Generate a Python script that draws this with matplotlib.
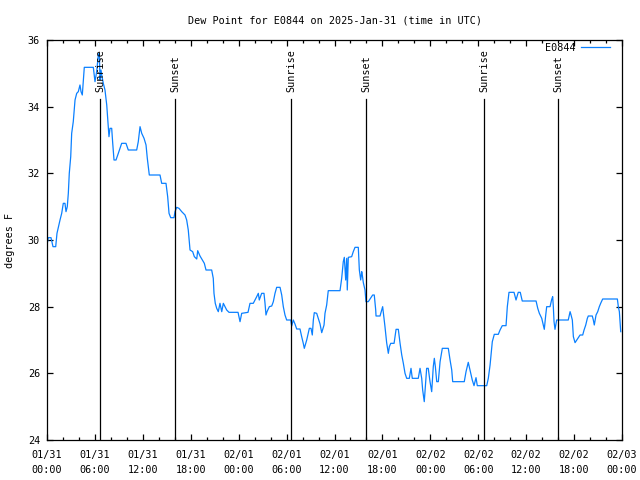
import matplotlib
matplotlib.use("Agg")
import matplotlib.pyplot as plt

# dew point readings, hours since 2025-01-31 00:00 UTC
hours = [0.00, 0.16, 0.50, 0.75, 1.09, 1.25, 1.63, 1.84, 2.04, 2.25,
         2.38, 2.54, 2.67, 2.79, 2.97, 3.09, 3.29, 3.51, 3.72, 3.92,
         4.13, 4.26, 4.42, 4.55, 4.67, 5.80, 5.89, 6.01, 6.22, 6.42,
         6.55, 6.64, 6.76, 6.89, 7.05, 7.26, 7.48, 7.68, 7.76, 7.89,
         8.10, 8.23, 8.39, 8.64, 8.93, 9.35, 9.89, 10.18, 11.23, 11.43,
         11.65, 11.86, 12.15, 12.40, 12.56, 12.81, 14.15, 14.36, 14.90, 15.11,
         15.28, 15.49, 15.90, 16.03, 16.24, 16.53, 16.87, 17.28, 17.49, 17.69,
         17.91, 18.24, 18.45, 18.75, 18.87, 19.16, 19.45, 19.70, 19.91, 20.62,
         20.82, 20.91, 21.07, 21.25, 21.45, 21.66, 21.88, 22.08, 22.29, 22.50,
         22.79, 23.92, 24.17, 24.38, 25.17, 25.42, 25.83, 26.05, 26.26, 26.46,
         26.58, 26.88, 27.17, 27.30, 27.42, 27.55, 27.84, 28.14, 28.34, 28.55,
         28.76, 29.18, 29.39, 29.59, 29.80, 30.01, 30.52, 30.64, 30.84, 31.05,
         31.27, 31.68, 31.89, 32.09, 32.22, 32.52, 32.85, 33.06, 33.22, 33.35,
         33.47, 33.77, 33.97, 34.19, 34.40, 34.69, 34.81, 35.02, 35.22, 36.69,
         36.90, 37.10, 37.23, 37.40, 37.53, 37.60, 37.73, 38.15, 38.35, 38.57,
         38.98, 39.11, 39.28, 39.41, 39.48, 39.61, 39.82, 39.94, 40.23, 40.78,
         40.98, 41.16, 41.20, 41.70, 41.91, 42.03, 42.20, 42.32, 42.53, 42.74,
         42.87, 43.04, 43.46, 43.71, 43.99, 44.21, 44.42, 44.62, 44.83, 45.04,
         45.37, 45.58, 45.74, 46.49, 46.71, 46.92, 47.04, 47.24, 47.37, 47.54,
         47.74, 47.96, 48.17, 48.37, 48.50, 48.63, 48.80, 49.00, 49.22, 49.50,
         50.25, 50.47, 50.68, 50.80, 52.25, 52.47, 52.75, 52.97, 53.25, 53.47,
         53.72, 53.88, 55.06, 55.26, 55.48, 55.60, 55.76, 56.01, 56.51, 56.73,
         57.01, 57.48, 57.64, 57.85, 58.48, 58.73, 59.01, 59.26, 59.51, 61.24,
         61.45, 61.65, 61.95, 62.15, 62.27, 62.45, 62.57, 62.99, 63.20, 63.32,
         63.40, 63.49, 63.61, 63.82, 65.27, 65.50, 65.62, 65.78, 65.91, 66.12,
         66.33, 66.53, 66.75, 67.08, 67.25, 67.46, 67.66, 67.78, 68.28, 68.41,
         68.53, 68.75, 68.96, 69.16, 69.33, 69.58, 71.42, 71.54, 71.67, 71.84]

dewpoint = [29.85, 30.07, 30.07, 29.80, 29.80, 30.20, 30.60, 30.80, 31.10, 31.10,
            30.85, 31.00, 31.40, 32.00, 32.50, 33.20, 33.55, 34.20, 34.40, 34.45,
            34.65, 34.45, 34.35, 34.80, 35.18, 35.18, 35.00, 34.75, 35.05, 35.55,
            35.60, 34.80, 35.10, 34.90, 34.70, 34.50, 34.05, 33.40, 33.10, 33.35,
            33.35, 32.90, 32.40, 32.40, 32.60, 32.90, 32.90, 32.70, 32.70, 32.95,
            33.40, 33.20, 33.05, 32.85, 32.45, 31.95, 31.95, 31.70, 31.70, 31.30,
            30.80, 30.67, 30.67, 30.85, 30.98, 30.95, 30.85, 30.75, 30.60, 30.30,
            29.70, 29.65, 29.50, 29.43, 29.68, 29.52, 29.40, 29.30, 29.10, 29.10,
            28.85, 28.40, 28.10, 27.95, 27.85, 28.10, 27.85, 28.10, 28.00, 27.90,
            27.83, 27.83, 27.55, 27.80, 27.83, 28.10, 28.10, 28.20, 28.30, 28.40,
            28.20, 28.40, 28.40, 28.10, 27.75, 27.85, 28.00, 28.02, 28.15, 28.40,
            28.58, 28.58, 28.35, 28.00, 27.75, 27.60, 27.60, 27.42, 27.60, 27.48,
            27.33, 27.33, 27.10, 26.90, 26.75, 27.00, 27.35, 27.35, 27.15, 27.60,
            27.82, 27.80, 27.65, 27.48, 27.22, 27.45, 27.80, 28.05, 28.48, 28.48,
            28.85, 29.35, 29.48, 28.80, 29.45, 28.50, 29.48, 29.50, 29.65, 29.78,
            29.78, 29.10, 28.80, 29.05, 28.95, 28.72, 28.50, 28.15, 28.15, 28.35,
            28.35, 27.90, 27.72, 27.72, 27.90, 28.00, 27.65, 27.40, 26.92, 26.60,
            26.80, 26.90, 26.90, 27.32, 27.32, 26.90, 26.55, 26.30, 26.00, 25.85,
            25.85, 26.15, 25.85, 25.85, 26.15, 25.85, 25.50, 25.15, 25.60, 26.15,
            26.15, 25.75, 25.45, 26.20, 26.45, 26.20, 25.75, 25.75, 26.35, 26.75,
            26.75, 26.40, 26.10, 25.75, 25.75, 26.05, 26.33, 26.10, 25.80, 25.63,
            25.87, 25.63, 25.63, 25.85, 26.25, 26.55, 26.95, 27.17, 27.17, 27.30,
            27.43, 27.43, 28.00, 28.43, 28.43, 28.20, 28.43, 28.43, 28.17, 28.17,
            27.95, 27.80, 27.65, 27.45, 27.32, 27.75, 28.00, 28.00, 28.22, 28.30,
            28.00, 27.55, 27.32, 27.60, 27.60, 27.85, 27.75, 27.60, 27.10, 26.92,
            27.00, 27.07, 27.15, 27.15, 27.30, 27.45, 27.65, 27.72, 27.72, 27.60,
            27.45, 27.75, 27.85, 28.00, 28.10, 28.23, 28.23, 28.00, 27.85, 27.25]

# sun events (hours since start)
sun_hours = [6.63, 16.02, 30.57, 39.95, 54.72, 64.00]
sun_labels = ["Sunrise", "Sunset", "Sunrise", "Sunset", "Sunrise", "Sunset"]

xtick_hours = list(range(0, 73, 6))
xtick_labels = ["01/31\n00:00", "01/31\n06:00", "01/31\n12:00", "01/31\n18:00",
                "02/01\n00:00", "02/01\n06:00", "02/01\n12:00", "02/01\n18:00",
                "02/02\n00:00", "02/02\n06:00", "02/02\n12:00", "02/02\n18:00",
                "02/03\n00:00"]

plt.rcParams['font.family'] = ['DejaVu Sans Mono']
plt.rcParams['font.size'] = 7.3

fig = plt.figure(figsize=(6.4, 4.8), dpi=100)
ax = fig.add_axes([47 / 640, 40 / 480, 575 / 640, 400 / 480])

ax.plot(hours, dewpoint, color='#0a80ff', lw=0.9, label='E0844')

# sunrise / sunset markers
for h, lab in zip(sun_hours, sun_labels):
    ax.plot([h, h], [24, 34.23], color='black', lw=0.9)
    ax.text(h, 34.44, lab, rotation=90, ha='center', va='bottom')

ax.set_xlim(0, 72)
ax.set_ylim(24, 36)
ax.set_xticks(xtick_hours)
ax.set_xticklabels(xtick_labels, linespacing=1.6)
ax.set_xticks(range(0, 73, 2), minor=True)
ax.set_yticks(range(24, 37, 2))

ax.tick_params(which='both', direction='in', top=True, right=True, width=0.9)
ax.tick_params(which='major', length=4.5)
ax.tick_params(which='minor', length=2.5)
ax.tick_params(axis='x', pad=7.5)
ax.tick_params(axis='y', pad=5)
for sp in ax.spines.values():
    sp.set_linewidth(0.9)

ax.set_ylabel('degrees F', labelpad=9)
ax.set_title('Dew Point for E0844 on 2025-Jan-31 (time in UTC)', fontsize=7.3, pad=12)

ax.legend(loc='upper right', bbox_to_anchor=(0.979, 0.993), frameon=False,
          markerfirst=False, handlelength=2.9, handletextpad=0.5,
          borderaxespad=0, borderpad=0)

fig.savefig('out.png', dpi=100)
